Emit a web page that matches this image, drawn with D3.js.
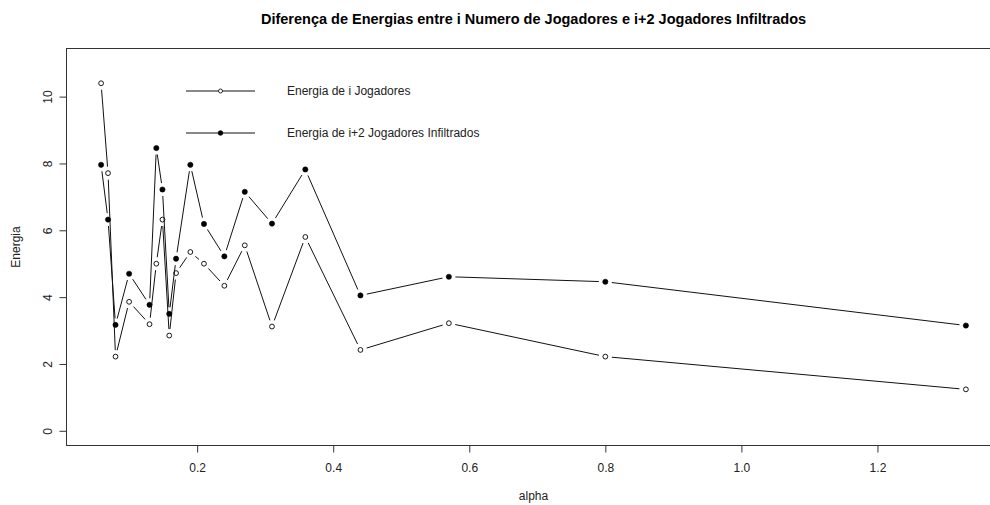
<!DOCTYPE html>
<html>
<head>
<meta charset="utf-8">
<script src="https://cdn.jsdelivr.net/npm/d3@7"></script>
<style>
  body { margin: 0; background: #fff; }
  svg { display: block; font-family: "Liberation Sans", Arial, sans-serif; }
</style>
</head>
<body>
<div id="chart"></div>
<script>
// values
const alpha = [0.0588, 0.069, 0.08, 0.10, 0.13, 0.14, 0.149, 0.159, 0.169, 0.19, 0.21, 0.24, 0.27, 0.31, 0.359, 0.44, 0.57, 0.80, 1.33]
const energiaJogadores = [10.40, 7.71, 2.22, 3.86, 3.19, 5.00, 6.32, 2.85, 4.72, 5.35, 5.00, 4.34, 5.55, 3.12, 5.80, 2.42, 3.22, 2.22, 1.24]
const energiaInfiltrados = [7.96, 6.32, 3.17, 4.70, 3.77, 8.46, 7.22, 3.50, 5.15, 7.96, 6.19, 5.22, 7.15, 6.20, 7.82, 4.05, 4.61, 4.46, 3.15]
const yTicks = [0, 2, 4, 6, 8, 10]
const xTicks = [0.2, 0.4, 0.6, 0.8, 1.0, 1.2]
const yLimits = [0, 11]
const legendLabels = ['Energia de i Jogadores', 'Energia de i+2 Jogadores Infiltrados']
const title = 'Diferença de Energias entre i Numero de Jogadores e i+2 Jogadores Infiltrados'

const W = 990, H = 505
const box = {left: 66.5, right: 1000.5, top: 48.5, bottom: 445.5}

const svg = d3.select('#chart').append('svg')
  .attr('width', W)
  .attr('height', H)

// R style 4% padding on both axes
const xr = d3.extent(alpha), xpad = (xr[1] - xr[0]) * 0.04
const x = d3.scaleLinear()
  .domain([xr[0] - xpad, xr[1] + xpad])
  .range([box.left, box.right])
const ypad = (yLimits[1] - yLimits[0]) * 0.04
const y = d3.scaleLinear()
  .domain([yLimits[0] - ypad, yLimits[1] + ypad])
  .range([box.bottom, box.top])

// box
svg.append('rect')
  .attr('x', box.left).attr('y', box.top)
  .attr('width', box.right - box.left).attr('height', box.bottom - box.top)
  .attr('fill', 'none').attr('stroke', '#333').attr('stroke-width', 1)

// y axis
const yAxis = svg.append('g')
  .attr('transform', 'translate(' + box.left + ',0)')
  .call(d3.axisLeft(y).tickValues(yTicks).tickSize(7).tickPadding(0).tickFormat(d3.format('d')))
yAxis.select('.domain').attr('stroke', 'none')
yAxis.selectAll('.tick line').attr('stroke', '#333')
yAxis.selectAll('.tick text')
  .attr('x', null).attr('dy', null)
  .attr('transform', 'translate(-19,0) rotate(-90)')
  .attr('text-anchor', 'middle')
  .attr('dy', '0.35em')
  .attr('font-size', 12)
  .attr('font-family', '"Liberation Sans", Arial, sans-serif')
  .attr('fill', '#222')

// x axis
const xAxis = svg.append('g')
  .attr('transform', 'translate(0,' + box.bottom + ')')
  .call(d3.axisBottom(x).tickValues(xTicks).tickSize(7).tickPadding(11).tickFormat(d3.format('.1f')))
xAxis.select('.domain').attr('stroke', 'none')
xAxis.selectAll('.tick line').attr('stroke', '#333')
xAxis.selectAll('.tick text')
  .attr('font-size', 12)
  .attr('font-family', '"Liberation Sans", Arial, sans-serif')
  .attr('fill', '#222')

// series drawn like R type="b": segments with gaps round the points
function drawSeries(values, filled) {
  const pts = alpha.map((a, i) => [x(a), y(values[i])])
  const gap = 6.5
  const g = svg.append('g')
  for (let i = 0; i < pts.length - 1; i++) {
    const [x0, y0] = pts[i], [x1, y1] = pts[i + 1]
    const len = Math.hypot(x1 - x0, y1 - y0)
    if (len <= 2 * gap) continue
    const ux = (x1 - x0) / len, uy = (y1 - y0) / len
    g.append('line')
      .attr('x1', x0 + ux * gap).attr('y1', y0 + uy * gap)
      .attr('x2', x1 - ux * gap).attr('y2', y1 - uy * gap)
      .attr('stroke', '#111').attr('stroke-width', 1)
  }
  g.selectAll('circle')
    .data(pts)
    .enter()
    .append('circle')
      .attr('cx', d => d[0])
      .attr('cy', d => d[1])
      .attr('r', filled ? 2.6 : 2.4)
      .attr('fill', filled ? '#000' : '#fff')
      .attr('stroke', '#000')
      .attr('stroke-width', filled ? 0.6 : 0.9)
}
drawSeries(energiaJogadores, false)
drawSeries(energiaInfiltrados, true)

// legend (no frame)
const legend = svg.append('g')
legendLabels.forEach((label, i) => {
  const ly = 91 + i * 42
  legend.append('line')
    .attr('x1', 186).attr('x2', 255).attr('y1', ly).attr('y2', ly)
    .attr('stroke', '#111').attr('stroke-width', 1)
  legend.append('circle')
    .attr('cx', 220.5).attr('cy', ly).attr('r', i == 0 ? 2 : 2.3)
    .attr('fill', i == 0 ? '#fff' : '#000')
    .attr('stroke', '#000').attr('stroke-width', 0.8)
  legend.append('text')
    .attr('x', 287).attr('y', ly)
    .attr('dy', '0.35em')
    .attr('font-size', 12)
    .attr('fill', '#222')
    .text(label)
})

// titles
svg.append('text')
  .attr('x', (box.left + box.right) / 2).attr('y', 24)
  .attr('text-anchor', 'middle')
  .attr('font-size', 14.5)
  .attr('font-weight', 'bold')
  .attr('fill', '#000')
  .text(title)

svg.append('text')
  .attr('x', (box.left + box.right) / 2).attr('y', 500)
  .attr('text-anchor', 'middle')
  .attr('font-size', 12)
  .attr('fill', '#222')
  .text('alpha')

svg.append('text')
  .attr('transform', 'translate(20,' + ((box.top + box.bottom) / 2) + ') rotate(-90)')
  .attr('text-anchor', 'middle')
  .attr('font-size', 12)
  .attr('fill', '#222')
  .text('Energia')
</script>
</body>
</html>
